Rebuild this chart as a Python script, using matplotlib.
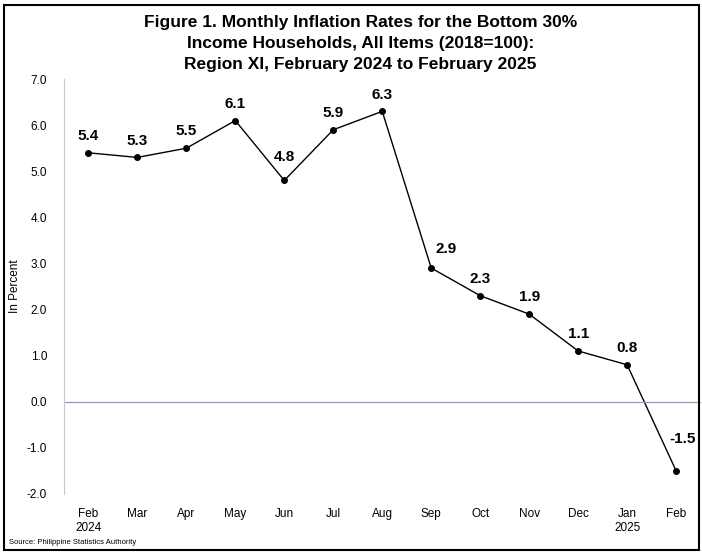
import matplotlib.pyplot as plt
from matplotlib.patches import Rectangle

months = ['Feb\n2024', 'Mar', 'Apr', 'May', 'Jun', 'Jul', 'Aug',
          'Sep', 'Oct', 'Nov', 'Dec', 'Jan\n2025', 'Feb']
rates = [5.4, 5.3, 5.5, 6.1, 4.8, 5.9, 6.3, 2.9, 2.3, 1.9, 1.1, 0.8, -1.5]
yticks = [-2.0, -1.0, 0.0, 1.0, 2.0, 3.0, 4.0, 5.0, 6.0, 7.0]

plt.rcParams['font.family'] = ['Liberation Sans', 'DejaVu Sans']

fig = plt.figure(figsize=(7.02, 5.53), dpi=100)
ax = fig.add_axes([0.091, 0.107, 0.907, 0.750])

x = list(range(len(rates)))
ax.plot(x, rates, color='black', linewidth=1.0, marker='o', markersize=4)
ax.axhline(0, color='#8a9bb5', linewidth=0.9)

# label nudges (points) where the original moves them off the point
nudge = {4: (0, 12), 7: (11, 9), 12: (5, 18)}
for xi, v in zip(x, rates):
    dx, dy = nudge.get(xi, (0, 7))
    ax.annotate(f'{v:.1f}', (xi, v), xytext=(dx, dy), textcoords='offset points',
                ha='center', va='bottom', fontsize=11, fontweight='bold')

ax.set_xlim(-0.5, 12.5)
ax.set_ylim(-2.0, 7.0)
ax.set_yticks(yticks)
ax.set_yticklabels([f'{t:.1f}' for t in yticks], fontsize=8.5)
ax.set_xticks(x)
ax.set_xticklabels(months, fontsize=8.5)
ax.tick_params(axis='both', length=0, pad=10)
ax.tick_params(axis='y', pad=12)
for s in ['top', 'right', 'bottom']:
    ax.spines[s].set_visible(False)
ax.spines['left'].set_color('#c8c8c8')
ax.set_ylabel('In Percent', fontsize=8.5, labelpad=4)

fig.text(0.513, 0.972,
         'Figure 1. Monthly Inflation Rates for the Bottom 30%\n'
         'Income Households, All Items (2018=100):\n'
         'Region XI, February 2024 to February 2025',
         ha='center', va='top', fontsize=12.5, fontweight='bold', linespacing=1.5)
fig.text(0.013, 0.012, 'Source: Philippine Statistics Authority', fontsize=5.5,
         ha='left', va='bottom')

fig.patches.append(Rectangle((0.006, 0.006), 0.99, 0.985, transform=fig.transFigure,
                             fill=False, edgecolor='black', linewidth=1.5))

fig.savefig('out.png', dpi=100)
